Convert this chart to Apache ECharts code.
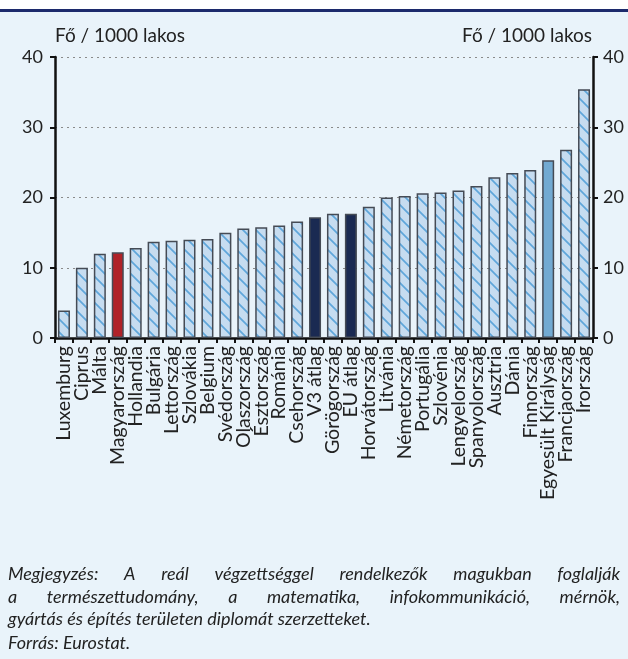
<!DOCTYPE html>
<html><head><meta charset="utf-8">
<script src="https://cdn.jsdelivr.net/npm/echarts@6/dist/echarts.min.js"></script>
<style>html,body{margin:0;padding:0;background:#e9f3fa}#c{width:628px;height:659px}</style>
</head><body><div id="c"></div>
<script>
// ---- data ----
const categories = ['Luxemburg','Ciprus','Málta','Magyarország','Hollandia','Bulgária','Lettország','Szlovákia','Belgium','Svédország','Olaszország','Észtország','Románia','Csehország','V3 átlag','Görögország','EU átlag','Horvátország','Litvánia','Németország','Portugália','Szlovénia','Lengyelország','Spanyolország','Ausztria','Dánia','Finnország','Egyesült Királyság','Franciaország','Írország'];
const values = [3.9,10.0,12.0,12.2,12.8,13.7,13.85,14.0,14.1,15.0,15.6,15.75,16.0,16.6,17.2,17.7,17.7,18.7,20.0,20.2,20.6,20.7,21.0,21.65,22.9,23.5,23.9,25.3,26.8,35.4];
const yTicks = [0,10,20,30,40];
const axisTitle = 'Fő / 1000 lakos';
const noteLines = [
  'Megjegyzés: A reál végzettséggel rendelkezők magukban foglalják',
  'a természettudomány, a matematika, infokommunikáció, mérnök,',
  'gyártás és építés területen diplomát szerzetteket.'
];
const sourceLine = 'Forrás: Eurostat.';
const highlightRed = ['Magyarország'];
const highlightNavy = ['V3 átlag','EU átlag'];
const highlightBlue = ['Egyesült Királyság'];

// ---- styles ----
const FONT = 'Lato';
function hatch(){
  const s = 13;
  const c = document.createElement('canvas');
  c.width = s; c.height = s;
  const g = c.getContext('2d');
  g.fillStyle = '#c6dcf0'; g.fillRect(0,0,s,s);
  g.strokeStyle = '#5fa6da'; g.lineWidth = 1.7;
  g.beginPath();
  g.moveTo(0,0); g.lineTo(s,s);
  g.moveTo(-2,s-2); g.lineTo(2,s+2);
  g.moveTo(s-2,-2); g.lineTo(s+2,2);
  g.stroke();
  return c;
}
const hatchImg = hatch();
const barData = values.map((v,i)=>{
  const n = categories[i];
  let color = {image: hatchImg, repeat:'repeat'};
  if (highlightRed.includes(n)) color = '#b02228';
  else if (highlightNavy.includes(n)) color = '#1a2a52';
  else if (highlightBlue.includes(n)) color = '#72aad2';
  return {value: v, itemStyle: {color: color}};
});

// justified note text
const mc = document.createElement('canvas').getContext('2d');
const noteFont = 'italic 18px ' + FONT;
mc.font = noteFont;
function lineWords(text, y, x0, x1, justify){
  const words = text.split(' ');
  const widths = words.map(w=>mc.measureText(w).width);
  const total = widths.reduce((a,b)=>a+b,0);
  const sp = justify ? (x1-x0-total)/(words.length-1) : mc.measureText(' ').width;
  let x = x0; const out = [];
  words.forEach((w,i)=>{
    out.push({type:'text', left:x, top:y, style:{text:w, font:noteFont, fill:'#222'}});
    x += widths[i] + sp;
  });
  return out;
}
const graphics = [
  {type:'rect', shape:{x:0,y:0,width:628,height:9}, style:{fill:'#ffffff'}},
  {type:'rect', shape:{x:0,y:9,width:628,height:3}, style:{fill:'#1c2a6c'}},
  {type:'text', left:55, top:26, style:{text:axisTitle, font:'19px '+FONT, fill:'#222'}},
  {type:'text', right:36, top:26, style:{text:axisTitle, font:'19px '+FONT, fill:'#222'}},
  ...lineWords(noteLines[0], 565, 8, 620, true),
  ...lineWords(noteLines[1], 588, 8, 620, true),
  ...lineWords(noteLines[2], 610, 8, 620, false),
  ...lineWords(sourceLine, 634, 8, 620, false)
];

const yAxisCommon = {
  type:'value', min:yTicks[0], max:yTicks[yTicks.length-1], interval:10,
  axisLine:{show:true, lineStyle:{color:'#111', width:2.5}},
  axisTick:{show:true, length:5, lineStyle:{color:'#111', width:2}},
  splitLine:{show:true, lineStyle:{color:'#8a8a8a', width:1, type:[2,4]}},
  axisLabel:{color:'#222', fontFamily:FONT, fontSize:18}
};

const chart = echarts.init(document.getElementById('c'), null, {renderer:'canvas'});
chart.setOption({
  backgroundColor:'#e9f3fa',
  animation:false,
  grid:{left:55, right:35, top:57, bottom:321},
  xAxis:{
    type:'category', data:categories,
    axisLine:{lineStyle:{color:'#111', width:2.5}},
    axisTick:{show:true, length:5, lineStyle:{color:'#111', width:2}},
    axisLabel:{rotate:90, interval:0, margin:8, color:'#222', fontFamily:FONT, fontSize:19.5}
  },
  yAxis:[
    Object.assign({}, yAxisCommon, {position:'left', axisLabel:Object.assign({}, yAxisCommon.axisLabel, {margin:12})}),
    Object.assign({}, yAxisCommon, {position:'right', splitLine:{show:false}, axisLabel:Object.assign({}, yAxisCommon.axisLabel, {margin:10})})
  ],
  series:[{
    type:'bar', data:barData, barWidth:'67%',
    itemStyle:{borderColor:'#454b55', borderWidth:1.5}
  }],
  graphic:graphics
});
</script></body></html>
